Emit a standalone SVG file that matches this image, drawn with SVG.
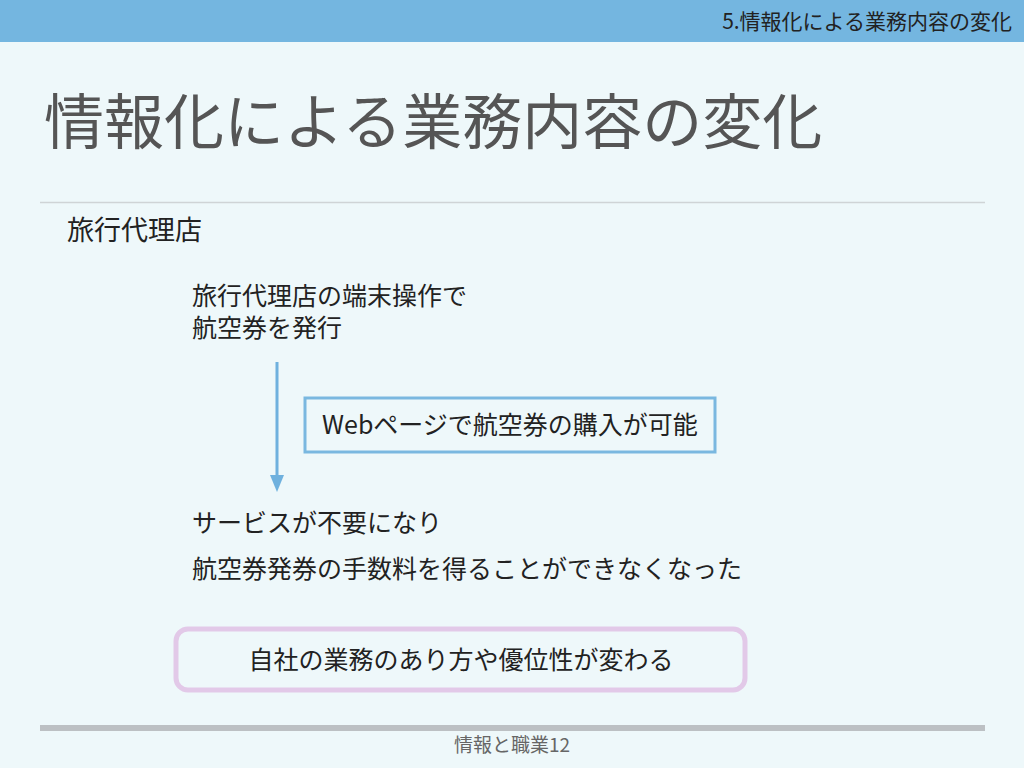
<svg xmlns="http://www.w3.org/2000/svg" width="1024" height="768" viewBox="0 0 1024 768">
<defs>
<style>
text{font-family:"Noto Sans CJK JP","Noto Sans",sans-serif;}
.body{font-size:25px;fill:#222;}
</style>
<marker id="ah" markerWidth="17" markerHeight="14" refX="1" refY="7" orient="auto" markerUnits="userSpaceOnUse">
<path d="M0,0 L17,7 L0,14 Z" fill="#6fb1de"/>
</marker>
</defs>
<rect width="1024" height="768" fill="#eef8fa"/>
<rect width="1024" height="42" fill="#74b6e0"/>
<text x="1012" y="29" text-anchor="end" style="font-size:21px;fill:#222">5.情報化による業務内容の変化</text>
<text x="44" y="144" style="font-size:60px;fill:#555">情報化による業務内容の変化</text>
<line x1="40" y1="202.5" x2="985" y2="202.5" stroke="#cfd4d6" stroke-width="1.5"/>
<g id="n-heading"><text x="67" y="240" style="font-size:27px;fill:#222">旅行代理店</text></g>
<g id="n-old">
<text class="body" x="192" y="305">旅行代理店の端末操作で</text>
<text class="body" x="192" y="337">航空券を発行</text>
</g>
<g id="n-web">
<rect x="305" y="398" width="410" height="54" fill="none" stroke="#7ab8e0" stroke-width="3"/>
<text class="body" x="510" y="434" text-anchor="middle">Webページで航空券の購入が可能</text>
</g>
<g id="n-result">
<text class="body" x="192" y="532">サービスが不要になり</text>
<text class="body" x="192" y="578">航空券発券の手数料を得ることができなくなった</text>
</g>
<g id="n-change">
<rect x="176" y="629" width="569" height="61" rx="12" fill="none" stroke="#e2c9e8" stroke-width="5"/>
<text class="body" x="461" y="669" text-anchor="middle">自社の業務のあり方や優位性が変わる</text>
</g>
<g id="connectors">
<line x1="277" y1="362" x2="277" y2="476" stroke="#6fb1de" stroke-width="3" marker-end="url(#ah)"/>
</g>
<rect x="40" y="725" width="945" height="6" fill="#bcc0c3"/>
<text x="512" y="752" text-anchor="middle" style="font-size:19px;fill:#666">情報と職業12</text>
</svg>
